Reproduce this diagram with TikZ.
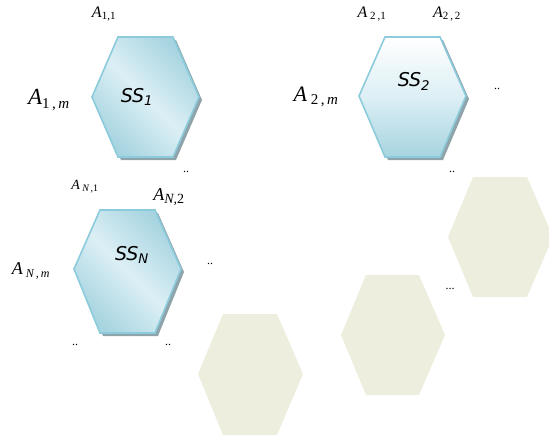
\documentclass[tikz,border=0pt]{standalone}
\usepackage{fontspec}
\setmainfont{Liberation Serif}
\newfontfamily\ssfont{DejaVu Sans}
\definecolor{hexedge}{HTML}{8CCBDB}
\definecolor{hexdark}{HTML}{A6D4E0}
\definecolor{hexlight}{HTML}{DCEFF5}
\definecolor{hexshadow}{HTML}{8FA3AA}
\definecolor{beige}{HTML}{EDEEDD}
\begin{document}
\begin{tikzpicture}[x=1pt,y=-1pt,
  shadowhex/.style={fill=hexshadow,draw=none},
  bluehex/.style={draw=hexedge,line width=1.6pt},
  beigehex/.style={fill=beige,draw=none},
  lbl/.style={inner sep=0pt,font=\itshape},
  sslbl/.style={inner sep=0pt,font=\ssfont\itshape\fontsize{19}{19}\selectfont},
  dots/.style={inner sep=0pt,font=\fontsize{12}{12}\selectfont}]
\useasboundingbox (0,0) rectangle (549,439);
% beige hexagons
\fill[beigehex] (198,374)--(223,314)--(277,314)--(303,374)--(277,435)--(223,435)--cycle;
\fill[beigehex] (341,335)--(366,275)--(419,275)--(445,335)--(419,395)--(366,395)--cycle;
\fill[beigehex] (448,237)--(473,177)--(527,177)--(553,237)--(527,297)--(473,297)--cycle;
% SS1
\fill[shadowhex] (95,100)--(121,40)--(176,40)--(202,100)--(176,160)--(121,160)--cycle;
\shade[top color=hexdark,bottom color=hexdark,middle color=hexlight,shading angle=135]
  (92,97)--(118,37)--(173,37)--(199,97)--(173,157)--(118,157)--cycle;
\draw[bluehex] (92,97)--(118,37)--(173,37)--(199,97)--(173,157)--(118,157)--cycle;
% SS2
\fill[shadowhex] (362,99)--(388,40)--(443,40)--(469,99)--(443,160)--(388,160)--cycle;
\shade[top color=white,bottom color=hexdark,middle color=hexlight]
  (359,96)--(385,37)--(440,37)--(466,96)--(440,157)--(385,157)--cycle;
\draw[bluehex] (359,96)--(385,37)--(440,37)--(466,96)--(440,157)--(385,157)--cycle;
% SSN
\fill[shadowhex] (77,272)--(103,213)--(158,213)--(184,272)--(158,336)--(103,336)--cycle;
\shade[top color=hexdark,bottom color=hexdark,middle color=hexlight,shading angle=135]
  (74,269)--(100,210)--(155,210)--(181,269)--(155,333)--(100,333)--cycle;
\draw[bluehex] (74,269)--(100,210)--(155,210)--(181,269)--(155,333)--(100,333)--cycle;
% hexagon labels
\node[sslbl] (ss1) at (137,97) {SS\textsubscript{1}};
\node[sslbl] (ss2) at (414,81) {SS\textsubscript{2}};
\node[sslbl] (ssn) at (132,255) {SS\textsubscript{N}};
% A labels
\node[lbl,font=\itshape\fontsize{16}{16}\selectfont] (a11) at (104,14) {A\textsubscript{\fontsize{11}{11}\selectfont\upshape 1,1}};
\node[lbl,font=\itshape\fontsize{23}{23}\selectfont] (a1m) at (49,100) {A\textsubscript{\fontsize{15}{15}\selectfont\upshape 1\,,\,\itshape m}};
\node[lbl,font=\itshape\fontsize{16}{16}\selectfont] (a21) at (372,14) {A\,\textsubscript{\fontsize{11}{11}\selectfont\upshape 2\,,1}};
\node[lbl,font=\itshape\fontsize{16}{16}\selectfont] (a22) at (447,14) {A\textsubscript{\fontsize{11}{11}\selectfont\upshape 2\,,\,2}};
\node[lbl,font=\itshape\fontsize{22}{22}\selectfont] (a2m) at (316,97) {A\,\textsubscript{\fontsize{15}{15}\selectfont\upshape 2\,,\,\itshape m}};
\node[lbl,font=\itshape\fontsize{14}{14}\selectfont] (an1) at (85,187) {A\,\textsubscript{\fontsize{10}{10}\selectfont N\,,\upshape 1}};
\node[lbl,font=\itshape\fontsize{18}{18}\selectfont] (an2) at (169,197) {A\textsubscript{\fontsize{14}{14}\selectfont N,\upshape 2}};
\node[lbl,font=\itshape\fontsize{18}{18}\selectfont] (anm) at (31,271) {A\,\textsubscript{\fontsize{12}{12}\selectfont N\,,\,m}};
% dots
\node[dots] (d1) at (186,172) {..};
\node[dots] (d2) at (497,89) {..};
\node[dots] (d3) at (452,172) {..};
\node[dots] (d4) at (210,264) {..};
\node[dots] (d5) at (75,345) {..};
\node[dots] (d6) at (168,345) {..};
\node[dots] (d7) at (450,289) {...};
\end{tikzpicture}
\end{document}
